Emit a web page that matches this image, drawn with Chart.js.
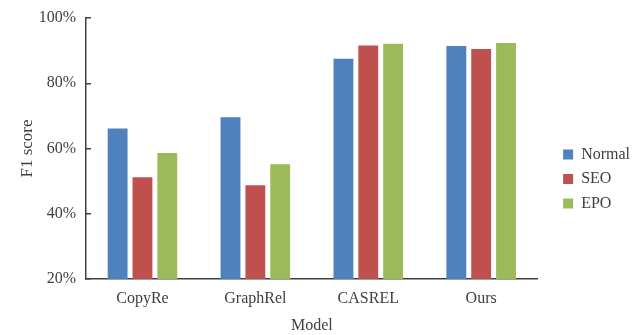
<!DOCTYPE html>
<html lang="en">
<head>
  <meta charset="UTF-8" />
  <title>F1 score by model</title>
  <script src="https://cdn.jsdelivr.net/npm/chart.js"></script>
  <style>
    html, body { margin: 0; padding: 0; background: #fff; }
    .wrap { width: 640px; height: 335px; }
  </style>
</head>
<body>
  <div class="wrap">
    <canvas id="f1Chart" width="640" height="335"></canvas>
  </div>

  <script>
    const models = ["CopyRe", "GraphRel", "CASREL", "Ours"];
    const normal = [66.1, 69.6, 87.5, 91.4];
    const seo = [51.2, 48.7, 91.6, 90.5];
    const epo = [58.6, 55.2, 92.1, 92.3];
    const yTicks = [20, 40, 60, 80, 100];

    const textColor = "#404040";
    const serif = "'Liberation Serif', 'Times New Roman', serif";

    const ctx = document.getElementById("f1Chart").getContext("2d");
    new Chart(ctx, {
      type: "bar",
      data: {
        labels: models,
        datasets: [
          { label: "Normal", data: normal, backgroundColor: "#4F81BD" },
          { label: "SEO", data: seo, backgroundColor: "#C0504D" },
          { label: "EPO", data: epo, backgroundColor: "#9BBB59" }
        ]
      },
      options: {
        responsive: false,
        animation: false,
        categoryPercentage: 0.66,
        barPercentage: 0.8,
        layout: { padding: { top: 0, left: 12, right: 0, bottom: 0 } },
        scales: {
          x: {
            grid: { display: false, drawTicks: false },
            border: { display: true, color: textColor, width: 1.5 },
            ticks: { color: textColor, font: { family: serif, size: 16 }, padding: 10 },
            title: {
              display: true, text: "Model", color: textColor,
              font: { family: serif, size: 16 }, padding: { top: 6, bottom: 0 }
            },
            afterFit: s => { s.height = 56; }
          },
          y: {
            min: 20,
            max: 100,
            afterBuildTicks: s => { s.ticks = yTicks.map(v => ({ value: v })); },
            grid: { drawOnChartArea: false, drawTicks: true, tickLength: -5, color: textColor, lineWidth: 1.5 },
            border: { display: true, color: textColor, width: 1.5 },
            ticks: {
              color: textColor, font: { family: serif, size: 16 }, padding: 15,
              callback: v => v + "%"
            },
            title: {
              display: true, text: "F1 score", color: textColor,
              font: { family: serif, size: 17 }, padding: { top: 5, bottom: 6 }
            },
            afterFit: s => { s.width = 74; s.paddingTop = 18; }
          },
          gap: {
            type: "linear",
            position: "right",
            display: true,
            grid: { display: false, drawTicks: false },
            border: { display: false },
            ticks: { display: false },
            afterFit: s => { s.width = 17; }
          }
        },
        plugins: {
          legend: {
            position: "right",
            title: { display: true, text: " ", font: { size: 11 }, padding: 5 },
            labels: {
              boxWidth: 10, boxHeight: 10, padding: 8.5,
              color: textColor, font: { family: serif, size: 16 }
            }
          },
          tooltip: { enabled: false }
        }
      }
    });
  </script>
</body>
</html>
